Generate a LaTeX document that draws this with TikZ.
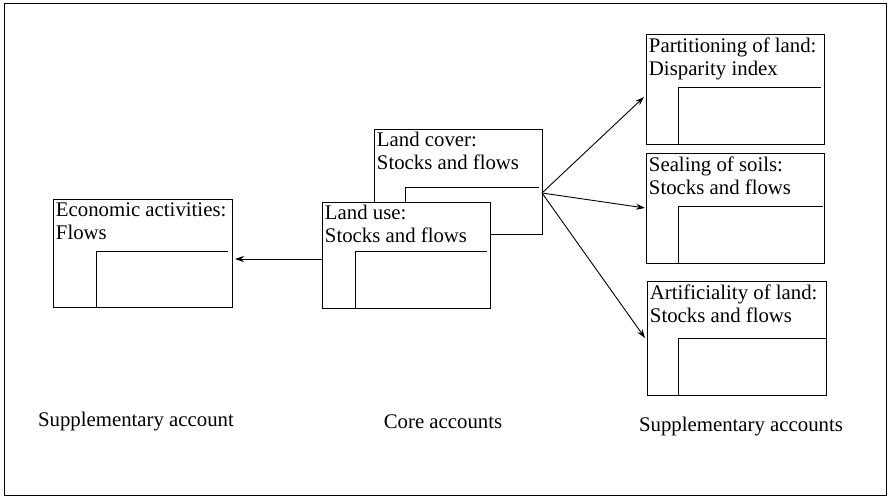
\documentclass[tikz,border=0pt]{standalone}
\usepackage{fontspec}
\setmainfont{Liberation Serif}
\usetikzlibrary{arrows.meta}
\begin{document}
\begin{tikzpicture}[x=1pt,y=-1pt,
  every path/.style={line width=0.9pt},
  acct/.style={draw,fill=white,inner sep=0pt,anchor=north west},
  acctxt/.style={anchor=north west,inner sep=0pt,align=left,font=\fontsize{20.8}{23}\selectfont},
  lbl/.style={inner sep=0pt,font=\fontsize{20.8}{23}\selectfont},
  arr/.style={-{Stealth[length=9pt,width=6pt]}}]
\useasboundingbox (0,0) rectangle (891,497);
\draw (4,3) rectangle (886,495);
% boxes: name, x1,y1,x2,y2, inner x, inner y, inner right, text
\newcommand\acctbox[9]{%
  \node[acct,minimum width=#4-#2,minimum height=#5-#3] (#1) at (#2,#3) {};
  \draw (#6,#5) -- (#6,#7) -- (#8,#7);
  \node[acctxt] (#1t) at (#2+2.5,#3+3) {#9};
}
\acctbox{cover}{374}{129}{542}{234}{405}{187}{539}{Land cover:\\Stocks and flows}
\acctbox{use}{322}{202}{490}{308}{355}{251}{487}{Land use:\\Stocks and flows}
\acctbox{econ}{53}{199}{232}{307}{96}{251}{228}{Economic activities:\\Flows}
\acctbox{part}{646}{34}{824}{144}{678}{87}{821}{Partitioning of land:\\Disparity index}
\acctbox{seal}{646}{153}{824}{263}{678}{206}{823}{Sealing of soils:\\Stocks and flows}
\acctbox{arti}{647}{281}{826}{395}{678}{338}{826}{Artificiality of land:\\Stocks and flows}
\coordinate (src) at (542,193);
\coordinate (tpart) at (644,97);
\coordinate (tseal) at (645,208);
\coordinate (tarti) at (645,338);
\coordinate (usew) at (322,259);
\coordinate (tecon) at (235,259);
\draw[arr] (src) -- (tpart);
\draw[arr] (src) -- (tseal);
\draw[arr] (src) -- (tarti);
\draw[arr] (usew) -- (tecon);
\node[lbl] (l1) at (136,422) {Supplementary account};
\node[lbl] (l2) at (443,422) {Core accounts};
\node[lbl] (l3) at (741,427) {Supplementary accounts};
\end{tikzpicture}
\end{document}
